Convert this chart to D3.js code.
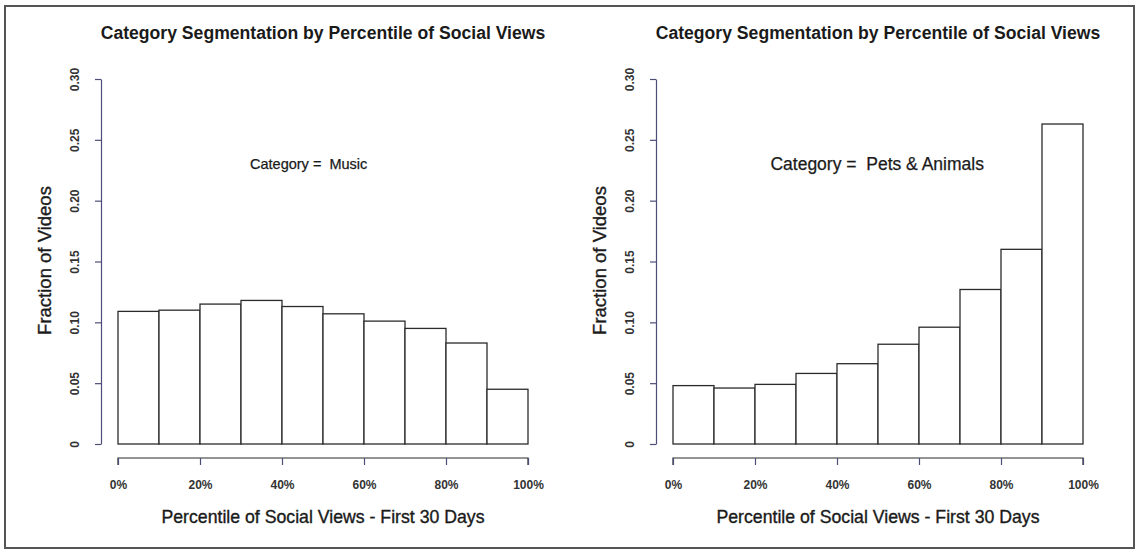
<!DOCTYPE html>
<html>
<head>
<meta charset="utf-8">
<script src="https://cdn.jsdelivr.net/npm/d3@7"></script>
<style>
  html, body { margin: 0; padding: 0; background: #fff; }
  svg { display: block; font-family: "Liberation Sans", Arial, Helvetica, sans-serif; }
</style>
</head>
<body>
<svg id="chart" width="1137" height="550"></svg>
<script>
// Percentile bins (left edges, in percent) and their fractions per category
const binStarts = [0, 10, 20, 30, 40, 50, 60, 70, 80, 90];
const musicValues = [0.109, 0.110, 0.115, 0.118, 0.113, 0.107, 0.101, 0.095, 0.083, 0.045];
const petsValues = [0.048, 0.046, 0.049, 0.058, 0.066, 0.082, 0.096, 0.127, 0.160, 0.263];

const xTicks = [0, 20, 40, 60, 80, 100];
const xTickLabels = ["0%", "20%", "40%", "60%", "80%", "100%"];
const yTicks = [0, 0.05, 0.10, 0.15, 0.20, 0.25, 0.30];
const yTickLabels = ["0", "0.05", "0.10", "0.15", "0.20", "0.25", "0.30"];

const categories = ["Music", "Pets & Animals"];
const panelTitle = "Category Segmentation by Percentile of Social Views";
const xTitle = "Percentile of Social Views - First 30 Days";
const yTitle = "Fraction of Videos";

const svg = d3.select("#chart");

// outer frame
svg.append("rect")
  .attr("x", 5).attr("y", 6)
  .attr("width", 1129).attr("height", 542)
  .attr("fill", "none")
  .attr("stroke", "#555")
  .attr("stroke-width", 2);

const ink = "#2b2b2b";
const axisInk = "#4d4d7a";
const textInk = "#1a1a1a";

function drawPanel(left, values, category, labelPos, labelSize) {
  const x = d3.scaleLinear().domain([0, 100]).range([left, left + 410]);
  const y = d3.scaleLinear().domain([0, 0.30]).range([444, 79]);
  const g = svg.append("g");

  // title
  g.append("text")
    .attr("x", (x(0) + x(100)) / 2)
    .attr("y", 39)
    .attr("text-anchor", "middle")
    .attr("font-size", 17.6)
    .attr("font-weight", "bold")
    .attr("fill", textInk)
    .text(panelTitle);

  // bars
  g.selectAll("rect.bar")
    .data(values)
    .join("rect")
    .attr("class", "bar")
    .attr("x", (d, i) => x(binStarts[i]))
    .attr("width", (d, i) => x(binStarts[i] + 10) - x(binStarts[i]))
    .attr("y", d => y(d))
    .attr("height", d => y(0) - y(d))
    .attr("fill", "#fff")
    .attr("stroke", ink)
    .attr("stroke-width", 1.3);

  // y axis
  const yAxis = g.append("g")
    .attr("transform", `translate(${left - 17},0)`)
    .call(d3.axisLeft(y)
      .tickValues(yTicks)
      .tickFormat((d, i) => yTickLabels[i])
      .tickSize(6)
      .tickSizeOuter(0));
  yAxis.select(".domain").attr("stroke", axisInk).attr("stroke-width", 1.2);
  yAxis.selectAll(".tick line").attr("stroke", axisInk).attr("stroke-width", 1.2);
  yAxis.selectAll(".tick text")
    .attr("x", null).attr("dy", null).attr("y", null)
    .attr("transform", "translate(-26,0) rotate(-90)")
    .attr("text-anchor", "middle")
    .attr("dominant-baseline", "central")
    .attr("font-size", 12)
    .attr("font-weight", "bold")
    .attr("fill", "#333")
    .attr("font-family", null);

  // x axis
  const xAxis = g.append("g")
    .attr("transform", "translate(0,458)")
    .call(d3.axisBottom(x)
      .tickValues(xTicks)
      .tickFormat((d, i) => xTickLabels[i])
      .tickSize(7)
      .tickSizeOuter(0));
  xAxis.select(".domain").attr("stroke", ink).attr("stroke-width", 1.2)
    .attr("d", `M${x(0)},7V0H${x(100)}V7`);
  xAxis.selectAll(".tick line").attr("stroke", axisInk).attr("stroke-width", 1.2);
  xAxis.selectAll(".tick text")
    .attr("y", 31).attr("dy", null)
    .attr("font-size", 12)
    .attr("font-weight", "bold")
    .attr("fill", "#333")
    .attr("font-family", null);

  // axis titles
  g.append("text")
    .attr("x", (x(0) + x(100)) / 2)
    .attr("y", 523)
    .attr("text-anchor", "middle")
    .attr("font-size", 17.7)
    .attr("fill", textInk)
    .attr("stroke", textInk)
    .attr("stroke-width", 0.35)
    .text(xTitle);

  g.append("text")
    .attr("transform", `translate(${left - 74},${y(0.15) - 1}) rotate(-90)`)
    .attr("text-anchor", "middle")
    .attr("dominant-baseline", "central")
    .attr("font-size", 18.5)
    .attr("fill", textInk)
    .attr("stroke", textInk)
    .attr("stroke-width", 0.35)
    .text(yTitle);

  // category annotation
  g.append("text")
    .attr("x", x(labelPos))
    .attr("y", y(0.23))
    .attr("text-anchor", "middle")
    .attr("dominant-baseline", "central")
    .attr("font-size", labelSize)
    .attr("fill", textInk)
    .attr("stroke", textInk)
    .attr("stroke-width", 0.25)
    .attr("xml:space", "preserve")
    .text("Category =  " + category);
}

drawPanel(118, musicValues, categories[0], 46.5, 14.5);
drawPanel(673, petsValues, categories[1], 49.8, 17.5);
</script>
</body>
</html>
